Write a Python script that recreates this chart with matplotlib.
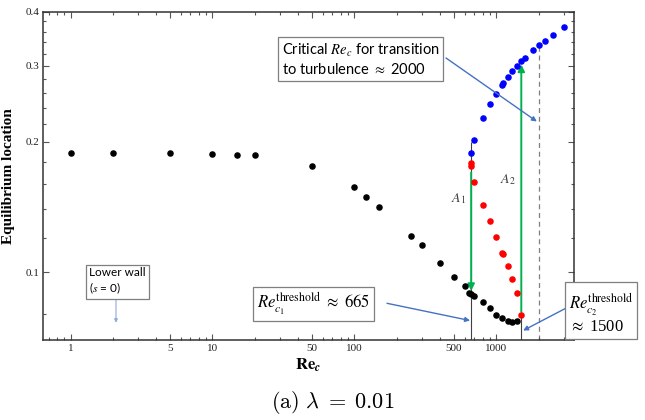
import numpy as np
import matplotlib
matplotlib.use("Agg")
import matplotlib.pyplot as plt
from matplotlib.ticker import FixedLocator, FixedFormatter, NullFormatter

plt.rcParams['font.family'] = ['Liberation Serif', 'DejaVu Serif']
plt.rcParams['mathtext.fontset'] = 'stix'

# lower branch (black), unstable middle branch (red), upper branch (blue)
black_re = [1, 2, 5, 10, 15, 20, 50, 100, 120, 150, 250, 300, 400, 500,
            600, 645, 665, 700, 800, 900, 1000, 1100, 1200, 1300, 1400]
black_y = [0.189, 0.189, 0.189, 0.188, 0.187, 0.187, 0.176, 0.157, 0.149, 0.1416,
           0.1214, 0.1154, 0.105, 0.0975, 0.0931, 0.0895, 0.089, 0.0883, 0.0855,
           0.0828, 0.0796, 0.0784, 0.0772, 0.0767, 0.0772]

red_re = [660, 660, 700, 800, 900, 1000, 1090, 1110, 1200, 1300, 1400, 1500]
red_y = [0.1785, 0.1756, 0.162, 0.1433, 0.1316, 0.1204, 0.111, 0.110, 0.1035,
         0.0964, 0.0896, 0.0796]

blue_re = [665, 700, 800, 900, 1000, 1090, 1110, 1200, 1300, 1400, 1500, 1600,
           1800, 2000, 2200, 2500, 3000]
blue_y = [0.189, 0.202, 0.227, 0.2443, 0.258, 0.271, 0.274, 0.282, 0.2913, 0.2993,
          0.3074, 0.313, 0.3254, 0.3353, 0.343, 0.354, 0.3686]

re_c1 = 665
re_c2 = 1500
re_crit = 2000

xticks = [1, 5, 10, 50, 100, 500, 1000]
xticklabels = ['1', '5', '10', '50', '100', '500', '1000']
yticks = [0.1, 0.2, 0.3, 0.4]
yticklabels = ['0.1', '0.2', '0.3', '0.4']

H = 420
arrow_blue = '#4472c4'
green = '#00b050'

fig = plt.figure(figsize=(6.45, 4.2), dpi=100)
ax = fig.add_axes([0.067, 0.1905, 0.8226, 0.7816])
ax.set_xscale('log')
ax.set_yscale('log')
ylo, yhi = 0.0697, 0.4
ax.set_xlim(0.642, 3515)
ax.set_ylim(ylo, yhi)

# reference lines
ax.vlines(re_c1, ylo, 0.2, color='#404040', lw=0.8, zorder=1)
ax.vlines(re_c2, ylo, 0.0796, color='#404040', lw=0.8, zorder=1)
ax.vlines(re_crit, ylo, 0.3353, color='#808080', lw=0.9, ls=(0, (4, 3)), zorder=1)

ax.plot(black_re, black_y, 'o', color='black', ms=3.7, zorder=3)
ax.plot(red_re, red_y, 'o', color='red', ms=3.7, zorder=3)
ax.plot(blue_re, blue_y, 'o', color='blue', ms=3.7, zorder=3)

# jumps between branches
ax.annotate('', xy=(re_c1, 0.0905), xytext=(re_c1, 0.17),
            arrowprops=dict(arrowstyle='-|>', color=green, lw=1.4,
                            mutation_scale=10, shrinkA=0, shrinkB=0), zorder=2)
ax.annotate('', xy=(re_c2, 0.302), xytext=(re_c2, 0.081),
            arrowprops=dict(arrowstyle='-|>', color=green, lw=1.4,
                            mutation_scale=10, shrinkA=0, shrinkB=0), zorder=2)
ax.text(545, 0.148, '$A_1$', fontsize=10, color='#404040', ha='center', va='center')
ax.text(1211, 0.164, '$A_2$', fontsize=10, color='#404040', ha='center', va='center')

# axes styling
ax.xaxis.set_major_locator(FixedLocator(xticks))
ax.xaxis.set_major_formatter(FixedFormatter(xticklabels))
ax.xaxis.set_minor_formatter(NullFormatter())
ax.yaxis.set_major_locator(FixedLocator(yticks))
ax.yaxis.set_major_formatter(FixedFormatter(yticklabels))
ax.yaxis.set_minor_locator(FixedLocator(np.arange(0.08, 0.39, 0.02)))
ax.yaxis.set_minor_formatter(NullFormatter())
ax.tick_params(which='both', direction='in', top=True, right=True,
               labelsize=8, labelcolor='#222222', color='#555555', width=0.8)
ax.tick_params(which='major', length=4.5, pad=3)
ax.tick_params(which='minor', length=2.5)
for s in ax.spines.values():
    s.set_linewidth(1.1)
    s.set_color('#333333')

ax.set_ylabel('Equilibrium location', fontsize=11, fontweight='bold')
ax.yaxis.set_label_coords(-0.053, 0.5)
ax.set_xlabel(r'$\mathbf{Re}_{\mathbfit{c}}$', fontsize=12)
ax.xaxis.set_label_coords(0.5, -0.05)

box = dict(boxstyle='square,pad=0.25', fc='white', ec='#7f7f7f', lw=0.9)
sans = ['Lato', 'DejaVu Sans']

# critical Re annotation
fig.text(282 / 645, 1 - 59.5 / H, 'Critical $Re_c$ for transition\nto turbulence $\\approx$ 2000',
         family=sans, fontsize=10.5, ha='left', va='center', linespacing=1.25, bbox=box)
ax.annotate('', xy=(1930, 0.223), xytext=(446, H - 58), textcoords='figure pixels',
            arrowprops=dict(arrowstyle='-|>', color=arrow_blue, lw=1.0,
                            mutation_scale=7, shrinkA=0, shrinkB=0))

# lower wall
fig.text(89 / 645, 1 - 281.5 / H, 'Lower wall\n($s$ = 0)', family=sans, fontsize=8.5,
         ha='left', va='center', linespacing=1.3, bbox=box)
ax.annotate('', xy=(2.09, 0.0764), xytext=(116, H - 299.5), textcoords='figure pixels',
            arrowprops=dict(arrowstyle='-|>', color='#8eaadb', lw=0.8,
                            mutation_scale=5, shrinkA=0, shrinkB=0))

# threshold 1
fig.text(257 / 645, 1 - 304 / H, r'$Re_{c_1}^{\mathrm{threshold}}\ \approx\ 665$',
         fontsize=12, ha='left', va='center', bbox=box)
ax.annotate('', xy=(653, 0.0773), xytext=(387, H - 303.3), textcoords='figure pixels',
            arrowprops=dict(arrowstyle='-|>', color=arrow_blue, lw=1.0,
                            mutation_scale=7, shrinkA=0, shrinkB=0))

# threshold 2
fig.text(569 / 645, 1 - 313 / H, '$Re_{c_2}^{\\mathrm{threshold}}$\n$\\approx$ 1500',
         fontsize=12, ha='left', va='center', linespacing=1.1, bbox=box)
ax.annotate('', xy=(1545, 0.0733), xytext=(565.7, H - 308.3), textcoords='figure pixels',
            arrowprops=dict(arrowstyle='-|>', color=arrow_blue, lw=1.0,
                            mutation_scale=7, shrinkA=0, shrinkB=0))

fig.text(333 / 645, 1 - 402 / H, r'$\mathrm{(a)}\ \lambda\;=\;0.01$', math_fontfamily='cm',
         fontsize=16, ha='center', va='center')

fig.savefig('out.png', dpi=100)
